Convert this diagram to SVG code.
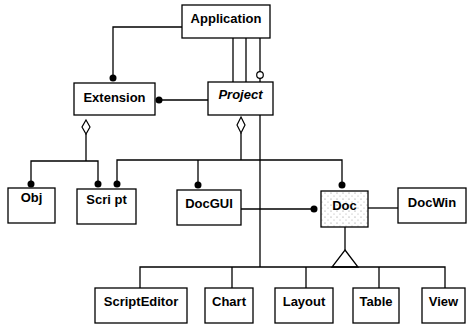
<svg xmlns="http://www.w3.org/2000/svg" width="467" height="328" viewBox="0 0 467 328">
  <style>
    .box { fill: #ffffff; stroke: #000000; stroke-width: 1.3; }
    .lbl { font-family: "Liberation Sans", Arial, sans-serif; font-weight: bold; font-size: 13px; text-anchor: middle; fill: #000000; }
    .edge { fill: none; stroke: #000000; stroke-width: 1.3; }
    .dot { fill: #000000; }
    .hollow { fill: #ffffff; stroke: #000000; stroke-width: 1.2; }
  </style>
  <defs>
    <pattern id="stipple" width="6" height="6" patternUnits="userSpaceOnUse">
      <rect width="6" height="6" fill="#ffffff"/>
      <circle cx="1" cy="1" r="0.6" fill="#888888"/>
      <circle cx="4" cy="4" r="0.6" fill="#aaaaaa"/>
    </pattern>
  </defs>
  <rect width="467" height="328" fill="#ffffff"/>

  <g id="connectors">
    <!-- Application to Extension -->
    <polyline class="edge" points="183,27 113,27 113,78"/>
    <circle class="dot" cx="113" cy="78" r="3.5"/>
    <!-- Application to Project -->
    <line class="edge" x1="233" y1="38" x2="233" y2="82"/>
    <line class="edge" x1="246" y1="38" x2="246" y2="82"/>
    <line class="edge" x1="260" y1="38" x2="260" y2="72"/>
    <circle class="hollow" cx="260" cy="75" r="3.3"/>
    <line class="edge" x1="260" y1="78" x2="260" y2="82"/>
    <!-- Project to Extension -->
    <line class="edge" x1="160" y1="100" x2="208" y2="100"/>
    <circle class="dot" cx="159" cy="100" r="3.5"/>
    <!-- Extension aggregation -->
    <polygon class="hollow" points="86,120 90,127 86,134 82,127"/>
    <polyline class="edge" points="86,134 86,161"/>
    <polyline class="edge" points="31,181 31,161 98,161 98,181"/>
    <circle class="dot" cx="31" cy="184" r="3.5"/>
    <circle class="dot" cx="98" cy="184" r="3.5"/>
    <!-- Project aggregation -->
    <polygon class="hollow" points="241,117 245,125 241,133 237,125"/>
    <line class="edge" x1="241" y1="133" x2="241" y2="160"/>
    <polyline class="edge" points="117,181 117,160 342,160 342,182"/>
    <circle class="dot" cx="117" cy="184" r="3.5"/>
    <circle class="dot" cx="342" cy="185" r="3.5"/>
    <line class="edge" x1="198" y1="160" x2="198" y2="182"/>
    <circle class="dot" cx="198" cy="185" r="3.5"/>
    <!-- Project to view classes -->
    <line class="edge" x1="260" y1="115" x2="260" y2="267"/>
    <polyline class="edge" points="140,288 140,267 445,267 445,288"/>
    <line class="edge" x1="232" y1="267" x2="232" y2="288"/>
    <line class="edge" x1="306" y1="267" x2="306" y2="288"/>
    <line class="edge" x1="379" y1="267" x2="379" y2="288"/>
    <!-- DocGUI to Doc -->
    <line class="edge" x1="241" y1="209" x2="311" y2="209"/>
    <circle class="dot" cx="314" cy="209" r="3.5"/>
    <!-- Doc to DocWin -->
    <line class="edge" x1="368" y1="208" x2="398" y2="208"/>
    <!-- Doc inheritance -->
    <line class="edge" x1="345" y1="227" x2="345" y2="250"/>
    <polygon class="edge" points="345,250 358,267 332,267"/>
  </g>

  <g id="application">
    <rect class="box" x="182" y="5" width="88" height="33"/>
    <text class="lbl" x="226" y="23">Application</text>
  </g>
  <g id="extension">
    <rect class="box" x="74" y="83" width="81" height="32"/>
    <text class="lbl" x="114.5" y="102">Extension</text>
  </g>
  <g id="project">
    <rect class="box" x="208" y="82" width="65" height="33"/>
    <text class="lbl" x="240.5" y="99" font-style="italic">Project</text>
  </g>
  <g id="obj">
    <rect class="box" x="8" y="188" width="47" height="35"/>
    <text class="lbl" x="31.5" y="202">Obj</text>
  </g>
  <g id="script">
    <rect class="box" x="77" y="189" width="59" height="35"/>
    <text class="lbl" x="106.5" y="204">Scri pt</text>
  </g>
  <g id="docgui">
    <rect class="box" x="177" y="190" width="64" height="35"/>
    <text class="lbl" x="209" y="208">DocGUI</text>
  </g>
  <g id="doc">
    <rect class="box" x="321" y="191" width="47" height="36" style="fill:url(#stipple)"/>
    <text class="lbl" x="344.5" y="210">Doc</text>
  </g>
  <g id="docwin">
    <rect class="box" x="398" y="188" width="68" height="35"/>
    <text class="lbl" x="432" y="207">DocWin</text>
  </g>
  <g id="scripteditor">
    <rect class="box" x="95" y="288" width="92" height="35"/>
    <text class="lbl" x="141" y="306">ScriptEditor</text>
  </g>
  <g id="chart">
    <rect class="box" x="205" y="288" width="48" height="35"/>
    <text class="lbl" x="229" y="306">Chart</text>
  </g>
  <g id="layout">
    <rect class="box" x="275" y="288" width="58" height="35"/>
    <text class="lbl" x="304" y="306">Layout</text>
  </g>
  <g id="table">
    <rect class="box" x="353" y="288" width="46" height="35"/>
    <text class="lbl" x="376" y="306">Table</text>
  </g>
  <g id="view">
    <rect class="box" x="422" y="288" width="43" height="35"/>
    <text class="lbl" x="443.5" y="306">View</text>
  </g>
</svg>
